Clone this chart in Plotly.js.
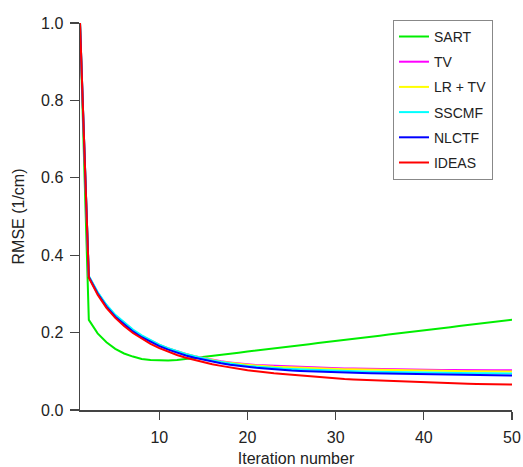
<!DOCTYPE html>
<html>
<head>
<meta charset="utf-8">
<script src="https://cdn.plot.ly/plotly-3.0.1.min.js"></script>
<style>html,body{margin:0;padding:0;background:#fff;}#chart{width:523px;height:467px;}</style>
</head>
<body>
<div id="chart"></div>
<script>
var iterations = [];
for (var i = 1; i <= 50; i++) iterations.push(i);

var seriesNames = ["SART", "TV", "LR + TV", "SSCMF", "NLCTF", "IDEAS"];
var seriesColors = ["#00ee00", "#ff00ff", "#ffff00", "#00ffff", "#0000ff", "#ff0000"];

var sart = [1.0, 0.233, 0.198, 0.175, 0.158, 0.146, 0.138, 0.132, 0.129, 0.128,
  0.128, 0.129, 0.1315, 0.134, 0.137, 0.140, 0.1425, 0.145, 0.148, 0.151,
  0.1535, 0.156, 0.159, 0.162, 0.1645, 0.167, 0.170, 0.173, 0.1755, 0.178,
  0.181, 0.184, 0.1865, 0.189, 0.192, 0.195, 0.1975, 0.200, 0.203, 0.206,
  0.2085, 0.211, 0.214, 0.217, 0.2195, 0.222, 0.225, 0.228, 0.2305, 0.233];

var tv = [1.0, 0.345, 0.303, 0.270, 0.244, 0.224, 0.206, 0.191, 0.179, 0.168,
  0.159, 0.151, 0.145, 0.139, 0.134, 0.130, 0.126, 0.123, 0.120, 0.118,
  0.116, 0.115, 0.114, 0.113, 0.112, 0.111, 0.110, 0.109, 0.1085, 0.108,
  0.1075, 0.107, 0.1065, 0.106, 0.1055, 0.105, 0.105, 0.1045, 0.1045, 0.104,
  0.104, 0.1035, 0.1035, 0.103, 0.103, 0.103, 0.1025, 0.1025, 0.1025, 0.1025];

var lrtv = [1.0, 0.345, 0.303, 0.270, 0.244, 0.224, 0.206, 0.191, 0.179, 0.168,
  0.159, 0.151, 0.145, 0.139, 0.134, 0.129, 0.125, 0.122, 0.119, 0.117,
  0.115, 0.113, 0.112, 0.111, 0.110, 0.109, 0.108, 0.107, 0.1065, 0.106,
  0.1055, 0.105, 0.1045, 0.104, 0.1035, 0.103, 0.1025, 0.102, 0.102, 0.1015,
  0.101, 0.101, 0.1005, 0.1005, 0.100, 0.100, 0.100, 0.0995, 0.0995, 0.0995];

var sscmf = [1.0, 0.346, 0.305, 0.272, 0.246, 0.226, 0.208, 0.193, 0.180, 0.169,
  0.160, 0.152, 0.145, 0.139, 0.133, 0.128, 0.124, 0.120, 0.117, 0.114,
  0.112, 0.110, 0.108, 0.107, 0.106, 0.105, 0.104, 0.103, 0.102, 0.101,
  0.1005, 0.100, 0.0995, 0.099, 0.0985, 0.098, 0.0975, 0.097, 0.097, 0.0965,
  0.096, 0.096, 0.0955, 0.0955, 0.095, 0.095, 0.095, 0.0945, 0.0945, 0.0945];

var nlctf = [1.0, 0.344, 0.301, 0.267, 0.241, 0.221, 0.203, 0.188, 0.176, 0.165,
  0.156, 0.148, 0.141, 0.135, 0.130, 0.125, 0.121, 0.117, 0.114, 0.111,
  0.109, 0.107, 0.105, 0.104, 0.102, 0.101, 0.100, 0.099, 0.098, 0.097,
  0.0965, 0.096, 0.0955, 0.095, 0.0945, 0.094, 0.0935, 0.093, 0.0925, 0.092,
  0.0915, 0.091, 0.0905, 0.090, 0.090, 0.0895, 0.0895, 0.089, 0.089, 0.089];

var ideas = [1.0, 0.342, 0.298, 0.264, 0.238, 0.217, 0.199, 0.184, 0.171, 0.160,
  0.150, 0.142, 0.135, 0.129, 0.123, 0.118, 0.114, 0.110, 0.106, 0.103,
  0.100, 0.097, 0.095, 0.093, 0.091, 0.089, 0.087, 0.085, 0.083, 0.081,
  0.080, 0.079, 0.078, 0.077, 0.076, 0.075, 0.074, 0.073, 0.072, 0.071,
  0.0705, 0.070, 0.0695, 0.069, 0.068, 0.0675, 0.067, 0.0665, 0.066, 0.066];

var xTickVals = [10, 20, 30, 40, 50];
var yTickVals = [0, 0.2, 0.4, 0.6, 0.8, 1.0];

var allSeries = [sart, tv, lrtv, sscmf, nlctf, ideas];
var traces = allSeries.map(function (ys, k) {
  return {
    x: iterations, y: ys, type: "scatter", mode: "lines",
    name: seriesNames[k], legendgroup: "g" + k,
    line: {color: seriesColors[k], width: 2},
    hoverinfo: "skip"
  };
});

var fontFam = "Liberation Sans, Arial, Helvetica, sans-serif";
var layout = {
  width: 523, height: 467,
  margin: {l: 80, r: 11, t: 23, b: 57, pad: 0},
  paper_bgcolor: "#fff", plot_bgcolor: "#fff",
  font: {family: fontFam, size: 16, color: "#222"},
  showlegend: true,
  legend: {
    x: 0.7245, y: 1.008, xanchor: "left", yanchor: "top",
    bordercolor: "#888", borderwidth: 1, bgcolor: "#fff",
    font: {family: fontFam, size: 14, color: "#222"},
    traceorder: "grouped", tracegroupgap: 4
  },
  xaxis: {
    range: [1, 50], tickvals: xTickVals, ticktext: xTickVals.map(String),
    showgrid: false, zeroline: false, showline: true, linecolor: "#444", linewidth: 1.5,
    ticks: "outside", ticklen: 8, tickwidth: 1.2, tickcolor: "#444",
    ticklabelstandoff: 4,
    tickfont: {size: 16, color: "#222"},
    title: {text: "Iteration number", font: {size: 16, color: "#222"}, standoff: 8}
  },
  yaxis: {
    range: [0, 1], tickvals: yTickVals, tickformat: ".1f",
    showgrid: false, zeroline: false, showline: true, linecolor: "#444", linewidth: 1.5,
    ticks: "outside", ticklen: 9, tickwidth: 1.2, tickcolor: "#444",
    ticklabelstandoff: 3,
    tickfont: {size: 16, color: "#222"},
    title: {text: "RMSE (1/cm)", font: {size: 16, color: "#222"}, standoff: 12}
  }
};

Plotly.newPlot("chart", traces, layout, {displayModeBar: false, staticPlot: true});
</script>
</body>
</html>
